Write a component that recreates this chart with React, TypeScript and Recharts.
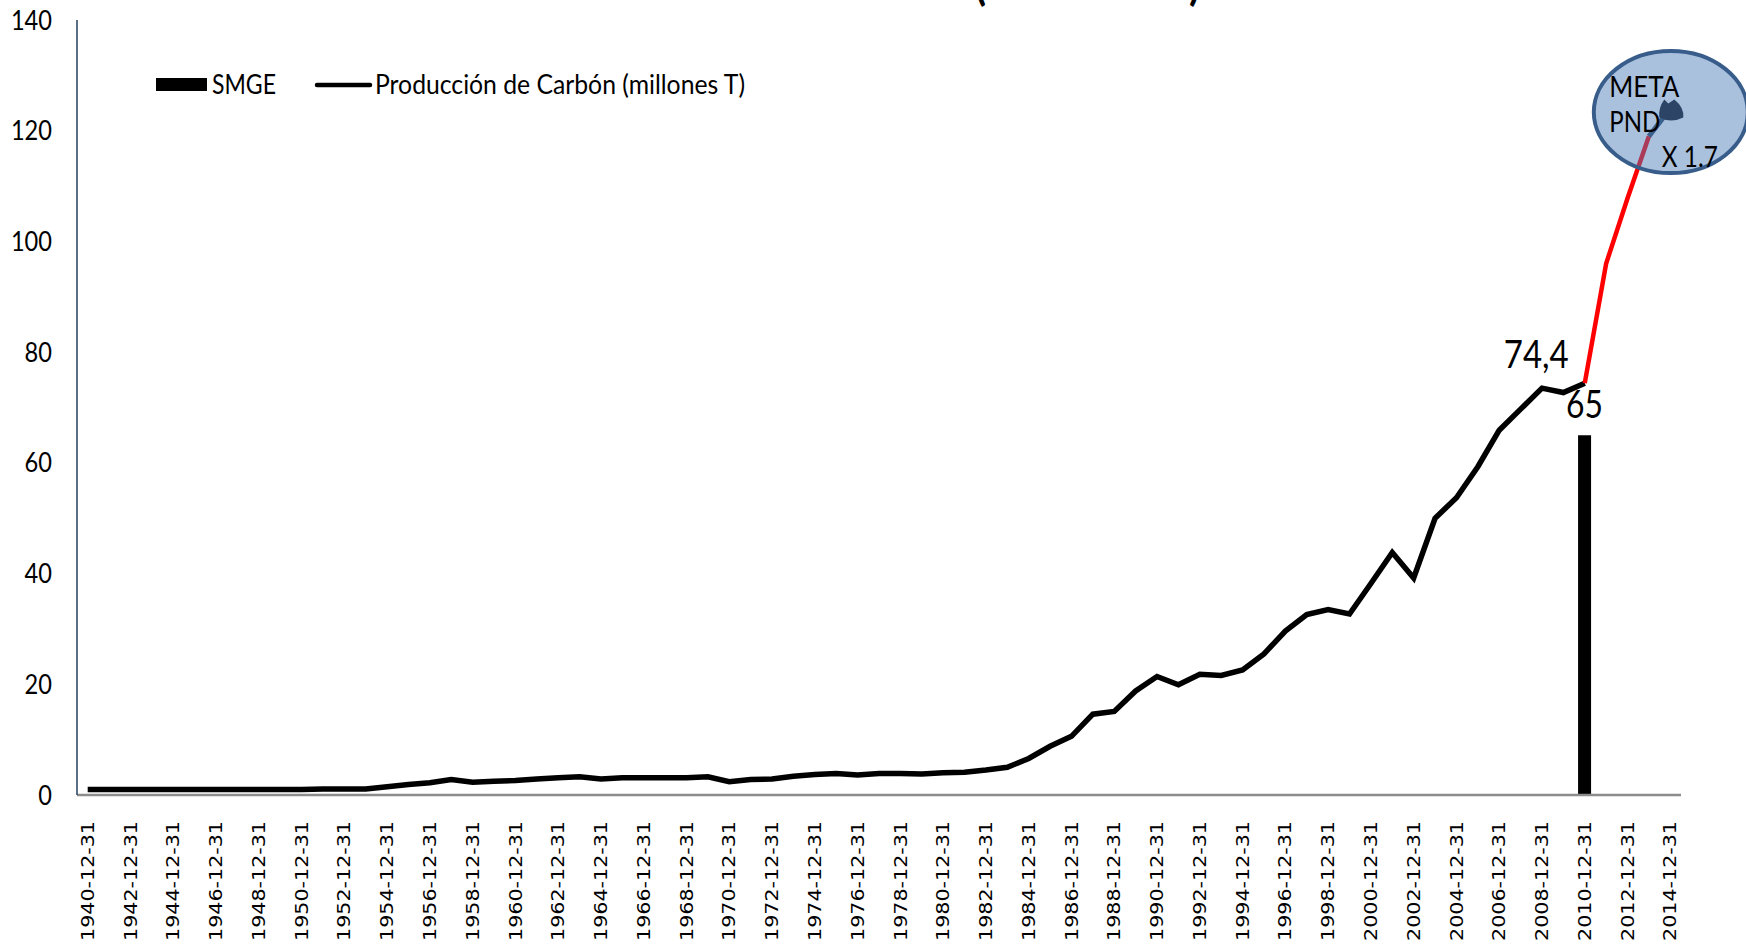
import {
  ComposedChart,
  Bar,
  Line,
  XAxis,
  YAxis,
  LabelList,
  ReferenceDot,
} from 'recharts';

// años (categorías del eje X, se muestran como AAAA-12-31)
const years = [
  1940, 1941, 1942, 1943, 1944, 1945, 1946, 1947, 1948, 1949,
  1950, 1951, 1952, 1953, 1954, 1955, 1956, 1957, 1958, 1959,
  1960, 1961, 1962, 1963, 1964, 1965, 1966, 1967, 1968, 1969,
  1970, 1971, 1972, 1973, 1974, 1975, 1976, 1977, 1978, 1979,
  1980, 1981, 1982, 1983, 1984, 1985, 1986, 1987, 1988, 1989,
  1990, 1991, 1992, 1993, 1994, 1995, 1996, 1997, 1998, 1999,
  2000, 2001, 2002, 2003, 2004, 2005, 2006, 2007, 2008, 2009,
  2010, 2011, 2012, 2013, 2014,
];

// Producción de Carbón (millones T), 1940-2010
const produccion = [
  1.0, 1.0, 1.0, 1.0, 1.0, 1.0, 1.0, 1.0, 1.0, 1.0,
  1.0, 1.1, 1.1, 1.1, 1.5, 1.9, 2.2, 2.8, 2.3, 2.5,
  2.6, 2.9, 3.1, 3.3, 2.9, 3.1, 3.1, 3.1, 3.1, 3.3,
  2.4, 2.8, 2.9, 3.4, 3.7, 3.9, 3.6, 3.9, 3.9, 3.8,
  4.0, 4.1, 4.5, 5.0, 6.6, 8.8, 10.6, 14.6, 15.1, 18.8,
  21.4, 19.9, 21.8, 21.6, 22.6, 25.5, 29.6, 32.6, 33.5, 32.7,
  38.2, 43.8, 39.2, 50.0, 53.7, 59.3, 65.9, 69.7, 73.5, 72.7,
  74.4,
];

// meta PND (tramo rojo)
const metaYears = [2010, 2011, 2012, 2013];
const metaValues = [74.4, 96.0, 107.8, 119.0];

// flecha final hacia la meta
const arrowYears = [2013, 2014];
const arrowValues = [119.0, 124.0];

// SMGE (barra)
const smgeYears = [2010];
const smgeValues = [65];

const yTicks = [0, 20, 40, 60, 80, 100, 120, 140];

const data = years.map((y, i) => {
  const mi = metaYears.indexOf(y);
  const ai = arrowYears.indexOf(y);
  const si = smgeYears.indexOf(y);
  return {
    fecha: `${y}-12-31`,
    produccion: i < produccion.length ? produccion[i] : null,
    meta: mi >= 0 ? metaValues[mi] : null,
    flecha: ai >= 0 ? arrowValues[ai] : null,
    smge: si >= 0 ? smgeValues[si] : null,
  };
});

const FONT = 'Lato, "Open Sans", sans-serif';

function XTick(props: any) {
  const { x, y, payload } = props;
  return (
    <text
      transform={`translate(${x},${y + 18}) rotate(-90)`}
      textAnchor="end"
      dy="0.36em"
      fontFamily="DejaVu Sans"
      fontSize={17}
      textLength={120}
      lengthAdjust="spacingAndGlyphs"
      fill="#000"
    >
      {payload.value}
    </text>
  );
}

function YTick(props: any) {
  const { y, payload } = props;
  const s = String(payload.value);
  return (
    <text
      x={52}
      y={y + 9.5}
      textAnchor="end"
      fontFamily={FONT}
      fontSize={26}
      textLength={s.length * 13.7}
      lengthAdjust="spacingAndGlyphs"
      fill="#000"
    >
      {s}
    </text>
  );
}

function ProdLabel(props: any) {
  const { x, y, index, value } = props;
  if (index !== 70 || value == null) return null;
  return (
    <text x={x - 16} y={y - 15} textAnchor="end" fontFamily={FONT} fontSize={38} textLength={65} lengthAdjust="spacingAndGlyphs" fill="#000">
      {String(value).replace('.', ',')}
    </text>
  );
}

function BarLabel(props: any) {
  const { x, y, width, value } = props;
  if (value == null) return null;
  return (
    <text x={x + width / 2} y={y - 17} textAnchor="middle" fontFamily={FONT} fontSize={38} textLength={37} lengthAdjust="spacingAndGlyphs" fill="#000">
      {value}
    </text>
  );
}

function MetaEllipse(props: any) {
  const { cx, cy } = props;
  return (
    <g>
      <ellipse cx={cx + 0.5} cy={cy + 3.5} rx={77} ry={61} fill="#4e7dba" fillOpacity={0.48} stroke="#385d8a" strokeWidth={4} />
      <text x={cx - 61} y={cy - 11.5} fontFamily={FONT} fontSize={28} textLength={70} lengthAdjust="spacingAndGlyphs" fill="#000">
        META
      </text>
      <text x={cx - 61} y={cy + 23.5} fontFamily={FONT} fontSize={28} textLength={51} lengthAdjust="spacingAndGlyphs" fill="#000">
        PND
      </text>
      <text x={cx - 8.5} y={cy + 58.5} fontFamily={FONT} fontSize={28} textLength={56} lengthAdjust="spacingAndGlyphs" fill="#000">
        X 1.7
      </text>
    </g>
  );
}

function ArrowHead(props: any) {
  const { cx, cy, index } = props;
  if (index !== years.length - 1 || cx == null) return <g key={`d-${index}`} />;
  return (
    <path
      key={`d-${index}`}
      transform={`translate(${cx + 1},${cy + 2})`}
      d="M -12 7 Q -13 -3 -7 -11 L -3 -7 L 3 -11 Q 13 -3 12 7 Q 0 13 -12 7 Z"
      fill="#2c4566"
    />
  );
}

export default function App() {
  return (
    <div style={{ position: 'fixed', left: 0, top: 0, width: 1746, height: 946, background: '#fff', overflow: 'hidden' }}>
      <div style={{ position: 'absolute', left: 0, top: 0 }}>
        <ComposedChart
          width={1746}
          height={946}
          data={data}
          margin={{ top: 20, right: 65, bottom: 0, left: 0 }}
          barCategoryGap={0}
        >
          <XAxis
            dataKey="fecha"
            interval={1}
            height={151}
            tickLine={false}
            axisLine={{ stroke: '#8c8c8c', strokeWidth: 2.5 }}
            tick={<XTick />}
          />
          <YAxis
            width={77}
            domain={[0, 140]}
            ticks={yTicks}
            tickLine={false}
            axisLine={{ stroke: '#243f60', strokeWidth: 1.5 }}
            tick={<YTick />}
          />
          <Bar dataKey="smge" name="SMGE" fill="#000" barSize={13} isAnimationActive={false}>
            <LabelList dataKey="smge" content={<BarLabel />} />
          </Bar>
          <Line
            dataKey="produccion"
            name="Producción de Carbón (millones T)"
            type="linear"
            stroke="#000"
            strokeWidth={5.5}
            dot={false}
            isAnimationActive={false}
            label={<ProdLabel />}
          />
          <Line
            dataKey="meta"
            type="linear"
            stroke="#ff0000"
            strokeWidth={4.5}
            dot={false}
            isAnimationActive={false}
          />
          <ReferenceDot x="2014-12-31" y={124} r={0} ifOverflow="visible" shape={<MetaEllipse />} />
          <Line
            dataKey="flecha"
            type="linear"
            stroke="#2c4566"
            strokeWidth={5}
            dot={<ArrowHead />}
            isAnimationActive={false}
          />
        </ComposedChart>
      </div>
      <svg width={1746} height={946} style={{ position: 'absolute', left: 0, top: 0, pointerEvents: 'none' }}>
        <text x={975} y={0} fontFamily={FONT} fontWeight="bold" fontSize={44} textLength={225} lengthAdjust="spacingAndGlyphs">
          (1940-2014)
        </text>
        {/* leyenda */}
        <rect x={156} y={78} width={51} height={13} fill="#000" />
        <text x={212} y={94} fontFamily={FONT} fontSize={26} textLength={64} lengthAdjust="spacingAndGlyphs">
          SMGE
        </text>
        <line x1={317} y1={85} x2={370} y2={85} stroke="#000" strokeWidth={4.5} strokeLinecap="round" />
        <text x={375} y={94} fontFamily={FONT} fontSize={26} textLength={370} lengthAdjust="spacingAndGlyphs">
          Producción de Carbón (millones T)
        </text>
      </svg>
    </div>
  );
}
